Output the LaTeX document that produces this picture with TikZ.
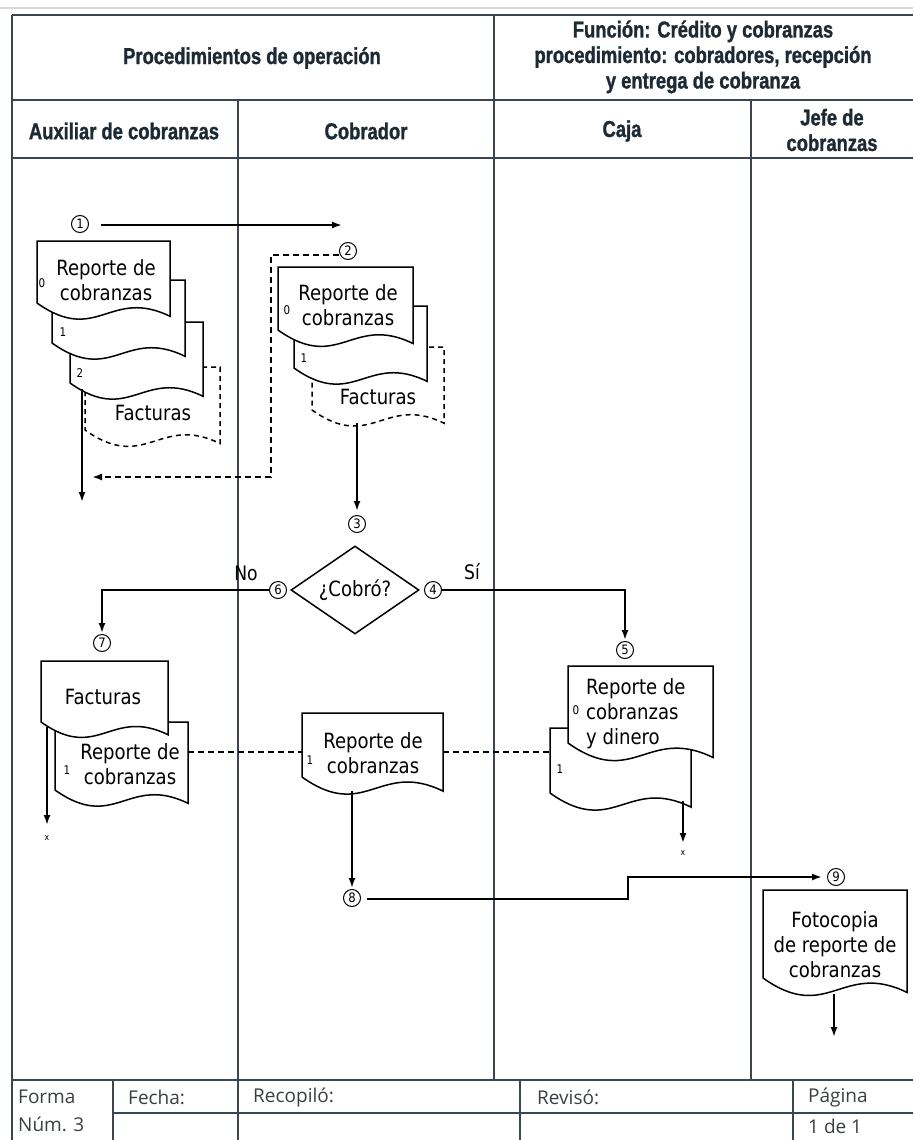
\documentclass[tikz,border=0pt]{standalone}
\usepackage{fontspec}
\usetikzlibrary{arrows.meta,shapes.geometric}
\newfontfamily\headfont{Liberation Sans}[FakeStretch=0.8, BoldFeatures={FakeBold=1.2}]
\newfontfamily\docfont{DejaVu Sans}[FakeStretch=0.86]
\newfontfamily\footfont{Open Sans}
\newfontfamily\symfont{DejaVu Sans}[FakeStretch=0.9]
\definecolor{framecol}{HTML}{3B4650}
\definecolor{hdrcol}{HTML}{1E2A33}
\definecolor{footcol}{HTML}{3A3F44}
\tikzset{
  framerule/.style={draw=framecol, line width=2.6pt},
  lanerule/.style={draw=framecol, line width=2.2pt},
  docline/.style={draw=black, line width=1.5pt, fill=white},
  flow/.style={draw=black, line width=1.8pt, -{Latex[length=10pt,width=7pt]}},
  dflow/.style={flow, dash pattern=on 6pt off 4pt},
  dashline/.style={draw=black, line width=1.8pt, dash pattern=on 6pt off 4pt},
  hdr/.style={font=\headfont\bfseries\fontsize{23}{25.5}\selectfont, align=center, text=hdrcol, inner sep=0pt},
  doctext/.style={font=\docfont\fontsize{21}{25}\selectfont, align=center, inner sep=0pt},
  stepnum/.style={circle, draw=black, line width=1pt, minimum size=17pt, inner sep=0pt,
                  font=\symfont\fontsize{13}{13}\selectfont},
  copynum/.style={font=\docfont\fontsize{12}{12}\selectfont, inner sep=0pt},
  endmark/.style={font=\docfont\fontsize{9}{9}\selectfont, inner sep=0pt},
  foot/.style={font=\footfont\fontsize{19}{22}\selectfont, anchor=west, inner sep=0pt, text=footcol},
}
% document symbol: [options]{x left}{x right}{y top}{y bottom-left}
\newcommand\docshape[5][]{%
  \draw[docline,#1] (#2,#4) -- (#3,#4) -- (#3,{#5+0.1*(#3-#2)})
    .. controls ({#2+0.55*(#3-#2)},{#5-0.12*(#3-#2)}) and ({#2+0.45*(#3-#2)},{#5+0.32*(#3-#2)}) .. (#2,#5) -- cycle;}
\begin{document}
\begin{tikzpicture}[x=1pt,y=-1pt]
\useasboundingbox (0,0) rectangle (913,1140);

% ---------- form frame ----------
\draw[draw=gray!30, line width=2pt] (0,8) -- (913,8);
\draw[framerule] (12,15) -- (913,15);
\draw[framerule] (12,15) -- (12,1140);
\draw[framerule] (12,100) -- (913,100);
\draw[framerule] (12,158) -- (913,158);
\draw[lanerule] (494,15) -- (494,1080);
\draw[lanerule] (238,100) -- (238,1140);
\draw[lanerule] (751,100) -- (751,1080);
\draw[framerule] (12,1080) -- (913,1080);
\draw[lanerule] (113,1113) -- (913,1113);
\draw[lanerule] (113,1080) -- (113,1140);
\draw[lanerule] (520,1080) -- (520,1140);
\draw[lanerule] (793,1080) -- (793,1140);

% ---------- headings ----------
\node[hdr] (hProc) at (252,58) {Procedimientos de operación};
\node[hdr] (hFunc) at (703,57) {Función: Crédito y cobranzas\\procedimiento: cobradores, recepción\\y entrega de cobranza};
\node[hdr] (hAux) at (124,131) {Auxiliar de cobranzas};
\node[hdr] (hCob) at (366,131) {Cobrador};
\node[hdr] (hCaja) at (622,131) {Caja};
\node[hdr] (hJefe) at (832,130) {Jefe de\\cobranzas};

% ---------- footer ----------
\node[foot] (fForma) at (18,1097) {Forma};
\node[foot] (fNum) at (18,1124) {Núm. 3};
\node[foot] (fFecha) at (128,1097) {Fecha:};
\node[foot] (fRecop) at (253,1097) {Recopiló:};
\node[foot] (fRevis) at (537,1097) {Revisó:};
\node[foot] (fPag) at (808,1097) {Página};
\node[foot] (fPagN) at (808,1126) {1 de 1};

% ---------- Auxiliar de cobranzas: report copies 0,1,2 and invoices ----------
\docshape[dash pattern=on 5pt off 4pt]{85}{220}{367}{430}
\docshape{70}{203}{322}{383}
\docshape{52}{185}{280}{343}
\docshape{37}{170}{241}{303}
\node[doctext] (tAuxRep) at (106,280) {Reporte de\\cobranzas};
\node[doctext] (tAuxFac) at (153,413) {Facturas};
\node[copynum] (nAux0) at (42,283) {0};
\node[copynum] (nAux1) at (63,332) {1};
\node[copynum] (nAux2) at (80,373) {2};

% ---------- Cobrador: report copies 0,1 and invoices ----------
\docshape[dash pattern=on 5pt off 4pt]{312}{444}{347}{410}
\docshape{294}{427}{306}{368}
\docshape{278}{413}{267}{330}
\node[doctext] (tCobRep) at (348,305) {Reporte de\\cobranzas};
\node[doctext] (tCobFac) at (378,397) {Facturas};
\node[copynum] (nCob0) at (287,310) {0};
\node[copynum] (nCob1) at (304,358) {1};

% ---------- step numbers ----------
\node[stepnum] (c1) at (80,224) {1};
\node[stepnum] (c2) at (348,251) {2};
\node[stepnum] (c3) at (357,524) {3};
\node[stepnum] (c6) at (278,590) {6};
\node[stepnum] (c4) at (433,590) {4};
\node[stepnum] (c7) at (102,643) {7};
\node[stepnum] (c5) at (625,650) {5};
\node[stepnum] (c8) at (352,898) {8};
\node[stepnum] (c9) at (836,877) {9};

% ---------- decision ----------
\node[draw, line width=1.5pt, shape=diamond, aspect=1.45, minimum width=128pt, minimum height=88pt,
      inner sep=0pt, font=\docfont\fontsize{21}{25}\selectfont] (dec) at (355,590) {¿Cobró?};
\node[font=\docfont\fontsize{20}{20}\selectfont, inner sep=0pt] (lNo) at (246,573) {No};
\node[font=\docfont\fontsize{20}{20}\selectfont, inner sep=0pt] (lSi) at (472,572) {Sí};

% ---------- Auxiliar: invoices returned and copy 1 ----------
\docshape{55}{188}{722}{790}
\docshape{41}{168}{661}{722}
\node[doctext] (tAuxFac2) at (103,697) {Facturas};
\node[doctext] (tAuxRep2) at (130,764) {Reporte de\\cobranzas};
\node[copynum] (nAux1b) at (67,770) {1};

% ---------- Cobrador: copy 1 ----------
\docshape{302}{443}{713}{777}
\node[doctext] (tCobRep2) at (373,753) {Reporte de\\cobranzas};
\node[copynum] (nCob1b) at (310,760) {1};

% ---------- Caja: report and money ----------
\docshape{550}{691}{728}{793}
\docshape{568}{713}{666}{743}
\node[doctext, align=left, anchor=west] (tCaja) at (586,714) {Reporte de\\ cobranzas\\y dinero};
\node[copynum] (nCaja0) at (576,710) {0};
\node[copynum] (nCaja1) at (560,769) {1};

% ---------- Jefe de cobranzas: photocopy ----------
\docshape{763}{907}{890}{978}
\node[doctext] (tFoto) at (835,945) {Fotocopia\\de reporte de\\cobranzas};

% ---------- connector end points ----------
\coordinate (c1end) at (342,225);
\coordinate (retCorner) at (271,255);
\coordinate (retEnd) at (92,477);
\coordinate (auxOutA) at (82,389);
\coordinate (auxOutB) at (82,502);
\coordinate (cobFacOut) at (357,423);
\coordinate (auxFacOutA) at (47,727);
\coordinate (auxFacOutB) at (47,825);
\node[endmark] (xAux) at (47,838) {x};
\coordinate (auxRepR) at (188,752);
\coordinate (cobRepL) at (302,752);
\coordinate (cobRepR) at (443,752);
\coordinate (cajaL) at (550,752);
\coordinate (cobRepOut) at (352,791);
\coordinate (stepUp) at (628,899);
\coordinate (cajaOutA) at (683,801);
\coordinate (cajaOutB) at (683,843);
\node[endmark] (xCaja) at (683,853) {x};
\coordinate (fotoOutA) at (834,994);
\coordinate (fotoOutB) at (834,1037);

% ---------- connectors ----------
\draw[flow] (c1.east |- c1end) ++(12,0) -- (c1end);
\draw[dflow] (retCorner -| c2.west) -- (retCorner) |- (retEnd);
\draw[flow] (auxOutA) -- (auxOutB);
\draw[flow, shorten >=4pt] (cobFacOut) -- (c3.north);
\draw[flow, shorten >=1pt] (c6.west) -| (c7.north);
\draw[flow, shorten >=1pt] (c4.east) -| (c5.north);
\draw[flow] (auxFacOutA) -- (auxFacOutB);
\draw[dashline] (auxRepR) -- (cobRepL);
\draw[dashline] (cobRepR) -- (cajaL);
\draw[flow, shorten >=1pt] (cobRepOut) -- (c8.north);
\draw[flow, shorten >=5pt] (c8.east |- stepUp) ++(6,0) -- (stepUp) |- (c9.west);
\draw[flow] (cajaOutA) -- (cajaOutB);
\draw[flow] (fotoOutA) -- (fotoOutB);
\end{tikzpicture}
\end{document}
